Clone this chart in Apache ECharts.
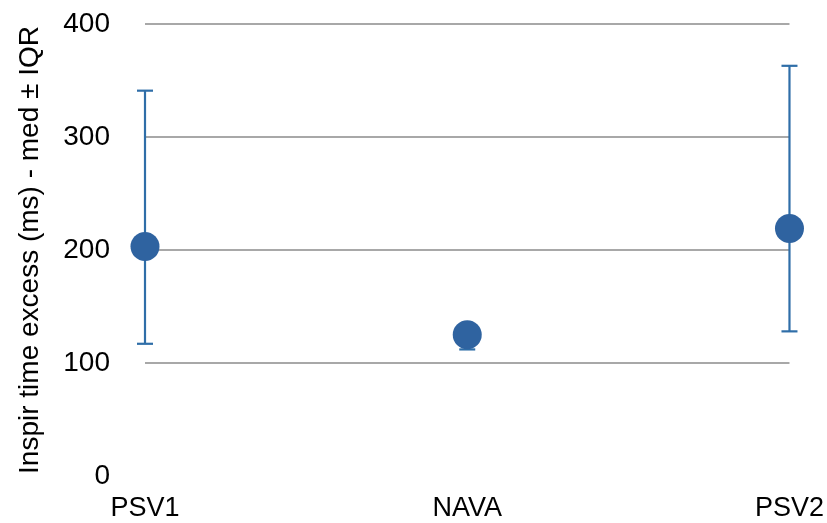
<!DOCTYPE html>
<html><head><meta charset="utf-8">
<script src="https://cdn.jsdelivr.net/npm/echarts@6/dist/echarts.min.js"></script>
<style>html,body{margin:0;padding:0;background:#fff}#c{width:827px;height:523px}</style>
</head><body><div id="c"></div>
<script>
const categories = ['PSV1', 'NAVA', 'PSV2'];
const medians = [203, 125, 219];
const lowerIQR = [117, 112, 128];
const upperIQR = [341, 134, 363];
const yTicks = [0, 100, 200, 300, 400];

const FONT = '"Liberation Sans", Arial, Helvetica, sans-serif';
const chart = echarts.init(document.getElementById('c'), null, {renderer: 'canvas'});
const errData = categories.map((c, i) => [i, lowerIQR[i], upperIQR[i]]);
chart.setOption({
  animation: false,
  grid: {left: 145, right: 37, top: 24, bottom: 47},
  xAxis: {
    type: 'category', data: categories, boundaryGap: false,
    axisLine: {show: false}, axisTick: {show: false}, splitLine: {show: false},
    axisLabel: {color: '#000', fontSize: 27, fontFamily: FONT, margin: 19}
  },
  yAxis: {
    type: 'value', min: yTicks[0], max: yTicks[yTicks.length - 1], interval: 100,
    name: 'Inspir time excess (ms) - med ± IQR', nameLocation: 'middle', nameGap: 101,
    nameTextStyle: {color: '#000', fontSize: 28, fontFamily: FONT},
    axisLine: {show: false}, axisTick: {show: false},
    axisLabel: {color: '#000', fontSize: 28, fontFamily: FONT, margin: 35, padding: [5, 0, 0, 0]},
    splitLine: {show: true, showMinLine: false, lineStyle: {color: '#a8a8a8', width: 2}},
  },
  series: [
    {
      type: 'custom',
      data: errData,
      z: 3,
      renderItem: function (params, api) {
        const x = api.value(0);
        const lo = api.coord([x, api.value(1)]);
        const hi = api.coord([x, api.value(2)]);
        const hw = 8;
        const style = {stroke: '#2f6ea8', lineWidth: 2.2};
        return {
          type: 'group',
          children: [
            {type: 'line', shape: {x1: lo[0], y1: lo[1], x2: hi[0], y2: hi[1]}, style},
            {type: 'line', shape: {x1: lo[0] - hw, y1: lo[1], x2: lo[0] + hw, y2: lo[1]}, style},
            {type: 'line', shape: {x1: hi[0] - hw, y1: hi[1], x2: hi[0] + hw, y2: hi[1]}, style}
          ]
        };
      }
    },
    {
      type: 'scatter',
      data: medians,
      symbol: 'circle', symbolSize: 29,
      z: 4,
      itemStyle: {color: '#2f63a0', opacity: 1}
    }
  ]
});
</script></body></html>
